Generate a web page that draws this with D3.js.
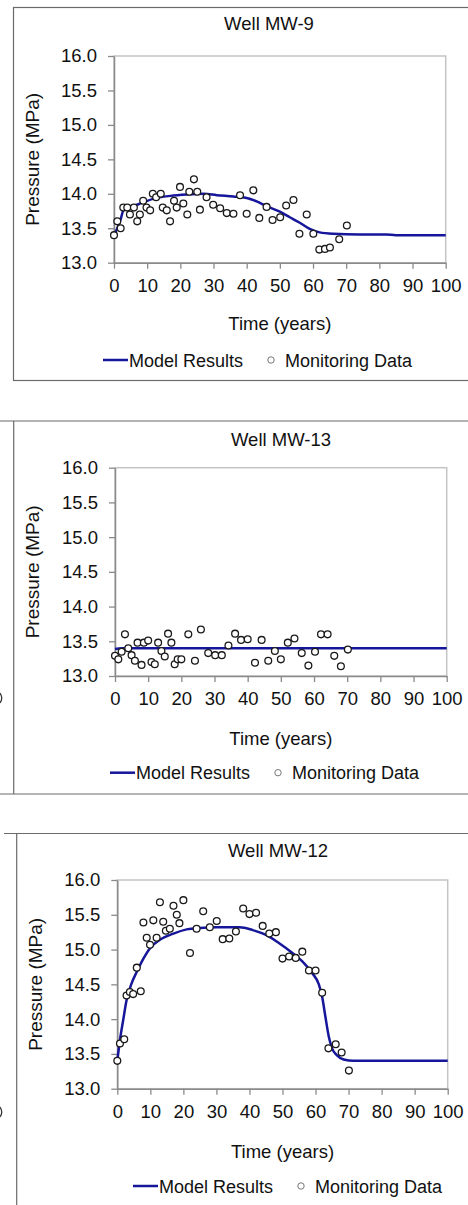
<!DOCTYPE html>
<html>
<head>
<meta charset="utf-8">
<script src="https://cdn.jsdelivr.net/npm/d3@7"></script>
<style>
  body { margin: 0; background: #fff; }
  svg { display: block; font-family: "Liberation Sans", Arial, sans-serif; }
</style>
</head>
<body>
<svg id="chart" width="468" height="1205"></svg>
<script>
// ---- data ----
var xTicks = [0, 10, 20, 30, 40, 50, 60, 70, 80, 90, 100];
var yTicks = [13.0, 13.5, 14.0, 14.5, 15.0, 15.5, 16.0];

// Well MW-9
var mw9Time = [0, 1, 2, 2.8, 4, 4.8, 6, 7, 7.8, 8.8, 9.8, 10.9, 11.7, 12.7, 14.1, 14.7, 15.9, 16.9, 18.1, 18.9,
  19.9, 20.9, 22.1, 22.7, 24.1, 25.1, 25.9, 27.9, 29.9, 32, 34, 36, 38, 40, 42, 43.8, 46, 47.8, 50.1, 51.9,
  54.1, 55.9, 58.1, 60.1, 61.9, 63.6, 65.1, 67.9, 70.2];
var mw9Pressure = [13.40, 13.60, 13.50, 13.80, 13.80, 13.70, 13.80, 13.60, 13.70, 13.90, 13.80, 13.76, 14.00, 13.95, 14.00, 13.80, 13.76, 13.60, 13.90, 13.80,
  14.10, 13.86, 13.70, 14.03, 14.21, 14.03, 13.77, 13.95, 13.84, 13.79, 13.72, 13.71, 13.98, 13.71, 14.05, 13.65, 13.81, 13.62, 13.66, 13.83,
  13.91, 13.42, 13.70, 13.42, 13.19, 13.20, 13.22, 13.34, 13.54];
var mw9ModelTime = [0, 1, 2, 3, 5, 8, 12, 17, 22, 27, 31, 36, 40, 43, 46, 50, 53, 56, 59, 62, 66, 74, 82, 85, 100];
var mw9ModelPressure = [13.40, 13.50, 13.63, 13.78, 13.81, 13.86, 13.93, 13.97, 13.99, 14.00, 13.98, 13.96, 13.94, 13.89, 13.82, 13.74, 13.66, 13.58, 13.49, 13.44, 13.42, 13.41, 13.41, 13.40, 13.40];

// Well MW-13
var mw13Time = [0, 1, 2, 3, 4, 5, 6, 6.8, 8, 8.7, 10, 11, 12, 13, 14, 15, 16, 17, 18, 18.9,
  20, 22.1, 24.1, 25.9, 28.1, 30.2, 32.2, 34.2, 36.2, 38, 40, 42.2, 44.2, 46.2, 48.2, 50, 52.1, 54.1,
  56.3, 58.3, 60.3, 62.1, 64.1, 66.1, 68.1, 70.2];
var mw13Pressure = [13.29, 13.24, 13.35, 13.60, 13.40, 13.30, 13.22, 13.48, 13.16, 13.48, 13.51, 13.20, 13.17, 13.48, 13.36, 13.28, 13.61, 13.48, 13.17, 13.24,
  13.24, 13.60, 13.22, 13.67, 13.33, 13.30, 13.30, 13.44, 13.61, 13.52, 13.53, 13.19, 13.52, 13.22, 13.36, 13.24, 13.48, 13.54,
  13.33, 13.15, 13.35, 13.60, 13.60, 13.29, 13.14, 13.38];
var mw13ModelTime = [0, 2, 100];
var mw13ModelPressure = [13.39, 13.40, 13.40];

// Well MW-12
var mw12Time = [0, 0.8, 2.1, 2.8, 3.8, 4.8, 5.9, 7.1, 7.9, 8.9, 9.9, 10.9, 11.9, 12.9, 13.9, 14.7, 15.9, 17, 18, 18.8,
  20, 22, 24, 26, 28, 30.1, 31.9, 33.9, 35.9, 38.1, 40, 42, 44, 46, 48, 50, 52, 54, 56, 58, 60, 62,
  63.9, 66.1, 67.9, 70.1];
var mw12Pressure = [13.40, 13.65, 13.71, 14.34, 14.39, 14.36, 14.74, 14.40, 15.39, 15.17, 15.07, 15.42, 15.17, 15.68, 15.40, 15.27, 15.30, 15.63, 15.50, 15.38,
  15.71, 14.95, 15.30, 15.55, 15.32, 15.41, 15.15, 15.16, 15.26, 15.59, 15.51, 15.53, 15.34, 15.23, 15.25, 14.87, 14.90, 14.88, 14.97, 14.70, 14.70, 14.38,
  13.58, 13.64, 13.52, 13.26];
var mw12ModelTime = [0, 0.8, 1.8, 2.8, 4.3, 5.9, 7.9, 9.9, 12.9, 17, 21, 25, 30, 37, 41, 45, 49, 53, 56, 59, 61, 62, 63, 64, 65, 66.5, 68.5, 71.5, 100];
var mw12ModelPressure = [13.40, 13.70, 13.99, 14.27, 14.51, 14.68, 14.87, 15.02, 15.14, 15.23, 15.29, 15.31, 15.32, 15.32, 15.28, 15.21, 15.09, 14.95, 14.83, 14.66, 14.50, 14.32, 14.03, 13.75, 13.58, 13.48, 13.42, 13.40, 13.40];

var titles = ["Well MW-9", "Well MW-13", "Well MW-12"];
var seriesLabels = ["Model Results", "Monitoring Data"];

// ---- layout of the three panels ----
var panels = [
  { title: titles[0], t: mw9Time, p: mw9Pressure, mt: mw9ModelTime, mp: mw9ModelPressure,
    left: 114, right: 445.7, top: 56, bottom: 262.7, titleX: 269, titleY: 30, yLabX: 33,
    xLabY: 330, legY: 360, legX: 103 },
  { title: titles[1], t: mw13Time, p: mw13Pressure, mt: mw13ModelTime, mp: mw13ModelPressure,
    left: 115, right: 446.7, top: 467.7, bottom: 676, titleX: 281, titleY: 446, yLabX: 33,
    xLabY: 745, legY: 772.7, legX: 110 },
  { title: titles[2], t: mw12Time, p: mw12Pressure, mt: mw12ModelTime, mp: mw12ModelPressure,
    left: 117.3, right: 447.7, top: 880, bottom: 1088.7, titleX: 278, titleY: 857, yLabX: 36,
    xLabY: 1158, legY: 1186, legX: 133 }
];

var lineColor = "#16169a";
var svg = d3.select("#chart");

// outer frames (cropped screenshot of three chart boxes)
var frame = svg.append("g").attr("fill", "none").attr("stroke", "#6a6a6a").attr("stroke-width", 1.2);
frame.append("rect").attr("x", 13.5).attr("y", 7.5).attr("width", 470).attr("height", 373);
frame.append("line").attr("x1", 0).attr("x2", 468).attr("y1", 421).attr("y2", 421);
frame.append("line").attr("x1", 13.7).attr("x2", 13.7).attr("y1", 421).attr("y2", 794);
frame.append("line").attr("x1", 0).attr("x2", 468).attr("y1", 794).attr("y2", 794);
frame.append("line").attr("x1", 4).attr("x2", 468).attr("y1", 833.5).attr("y2", 833.5);
frame.append("line").attr("x1", 16.7).attr("x2", 16.7).attr("y1", 833.5).attr("y2", 1205);

// sliver of a cut-off glyph at the left edge
[698, 1112].forEach(function (yy) {
  svg.append("path")
    .attr("d", "M0," + (yy - 5) + " Q3.5," + yy + " 0," + (yy + 5))
    .attr("fill", "none").attr("stroke", "#333").attr("stroke-width", 1.3);
});

panels.forEach(function (pn) {
  var g = svg.append("g");

  var x = d3.scaleLinear().domain([0, 100]).range([pn.left, pn.right]);
  var y = d3.scaleLinear().domain([13, 16]).range([pn.bottom, pn.top]);

  // plot area border (light gray top / right)
  g.append("rect")
    .attr("x", pn.left).attr("y", pn.top)
    .attr("width", pn.right - pn.left).attr("height", pn.bottom - pn.top)
    .attr("fill", "none").attr("stroke", "#c4c4c4").attr("stroke-width", 1.5);

  var yAxis = g.append("g")
    .attr("transform", "translate(" + pn.left + ",0)")
    .call(d3.axisLeft(y).tickValues(yTicks).tickFormat(d3.format(".1f"))
      .tickSize(6).tickSizeOuter(0).tickPadding(11));

  var xAxis = g.append("g")
    .attr("transform", "translate(0," + pn.bottom + ")")
    .call(d3.axisBottom(x).tickValues(xTicks).tickFormat(d3.format("d"))
      .tickSize(6).tickSizeOuter(0).tickPadding(10));

  [yAxis, xAxis].forEach(function (ax) {
    ax.select(".domain").attr("stroke", "#8a8a8a").attr("stroke-width", 1.5);
    ax.selectAll(".tick line").attr("stroke", "#8a8a8a").attr("stroke-width", 1.3);
    ax.selectAll(".tick text").attr("fill", "#111").attr("font-size", 18.5)
      .attr("font-family", "Liberation Sans, Arial, sans-serif");
  });

  // model line
  var line = d3.line()
    .x(function (d) { return x(d[0]); })
    .y(function (d) { return y(d[1]); })
    .curve(d3.curveMonotoneX);
  g.append("path")
    .datum(d3.zip(pn.mt, pn.mp))
    .attr("d", line)
    .attr("fill", "none").attr("stroke", lineColor).attr("stroke-width", 2.5);

  // monitoring data
  g.selectAll("circle.obs")
    .data(d3.zip(pn.t, pn.p))
    .join("circle")
    .attr("class", "obs")
    .attr("cx", function (d) { return x(d[0]); })
    .attr("cy", function (d) { return y(d[1]); })
    .attr("r", 3.4)
    .attr("fill", "#fff").attr("stroke", "#1a1a1a").attr("stroke-width", 1.3);

  // texts
  g.append("text").attr("x", pn.titleX).attr("y", pn.titleY)
    .attr("text-anchor", "middle").attr("font-size", 18.5).attr("fill", "#111").text(pn.title);

  g.append("text").attr("x", (pn.left + pn.right) / 2).attr("y", pn.xLabY)
    .attr("text-anchor", "middle").attr("font-size", 18.5).attr("fill", "#111").text("Time (years)");

  g.append("text")
    .attr("transform", "translate(" + (pn.yLabX + 6) + "," + ((pn.top + pn.bottom) / 2) + ") rotate(-90)")
    .attr("text-anchor", "middle").attr("font-size", 19).attr("fill", "#111").text("Pressure (MPa)");

  // legend
  var lg = g.append("g").attr("transform", "translate(" + pn.legX + "," + pn.legY + ")");
  lg.append("line").attr("x1", 0).attr("x2", 25).attr("y1", 0).attr("y2", 0)
    .attr("stroke", lineColor).attr("stroke-width", 2.5);
  lg.append("text").attr("x", 26).attr("y", 6.5).attr("font-size", 18).attr("fill", "#111").text(seriesLabels[0]);
  lg.append("circle").attr("cx", 168).attr("cy", 0).attr("r", 3.2)
    .attr("fill", "#fff").attr("stroke", "#777").attr("stroke-width", 1);
  lg.append("text").attr("x", 182).attr("y", 6.5).attr("font-size", 18).attr("fill", "#111").text(seriesLabels[1]);
});
</script>
</body>
</html>
